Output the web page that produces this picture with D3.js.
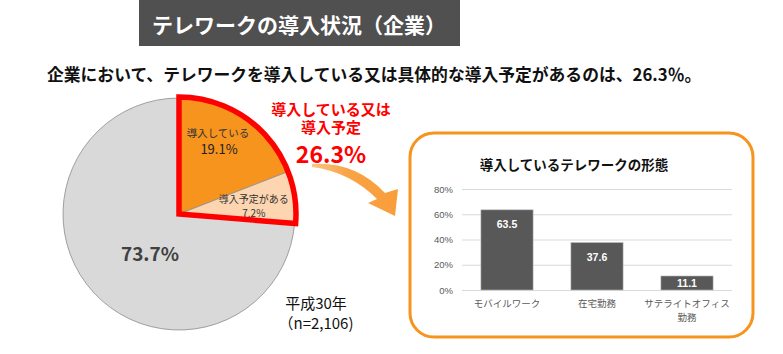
<!DOCTYPE html>
<html>
<head>
<meta charset="utf-8">
<script src="https://cdn.jsdelivr.net/npm/d3@7"></script>
<style>
body { margin: 0; background: #fff; }
svg { display: block; font-family: "Noto Sans CJK JP", "Noto Sans", sans-serif; }
</style>
</head>
<body>
<svg id="chart" width="783" height="354"></svg>
<script>
// pie: share of companies
var pieLabels = ["導入している", "導入予定がある", ""];
var pieValues = [19.1, 7.2, 73.7];
var pieColors = ["#f7941e", "#fdd5b0", "#d9d9d9"];

// bar: types of telework introduced
var barCategories = [["モバイルワーク"], ["在宅勤務"], ["サテライトオフィス", "勤務"]];
var barValues = [63.5, 37.6, 11.1];
var barTicks = [0, 20, 40, 60, 80];

var svg = d3.select("#chart");

// Title box
svg.append("rect").attr("x", 139).attr("y", 0).attr("width", 321).attr("height", 46).attr("fill", "#505050");
svg.append("text").attr("x", 299).attr("y", 24).attr("text-anchor", "middle").attr("dominant-baseline", "central")
  .attr("fill", "#fff").attr("font-size", 21).attr("font-weight", "bold")
  .text("テレワークの導入状況（企業）");

svg.append("text").attr("x", 47).attr("y", 74).attr("dominant-baseline", "central")
  .attr("fill", "#111").attr("font-size", 16.8).attr("font-weight", "bold")
  .text("企業において、テレワークを導入している又は具体的な導入予定があるのは、26.3％。");

////////////////////////////////////////////////////////
// Pie
////////////////////////////////////////////////////////
var cx = 179, cy = 214, r = 116;
var pie = d3.pie().sort(null).value(function (d) { return d; });
var arcs = pie(pieValues);
var arc = d3.arc().innerRadius(0).outerRadius(r);
var g = svg.append("g").attr("transform", "translate(" + cx + "," + cy + ")");

g.selectAll("path.slice").data(arcs).enter().append("path")
  .attr("class", "slice")
  .attr("d", arc)
  .attr("fill", function (d, i) { return pieColors[i]; })
  .attr("stroke", "#8c8c8c")
  .attr("stroke-width", 0.8);

// red outline round the introduced + planned share
var redShare = pieValues[0] + pieValues[1];
var total = d3.sum(pieValues);
g.append("path")
  .attr("d", d3.arc().innerRadius(0).outerRadius(r + 1)({ startAngle: 0, endAngle: 2 * Math.PI * redShare / total }))
  .attr("fill", "none").attr("stroke", "#ff0000").attr("stroke-width", 5.5).attr("stroke-linejoin", "miter");

// slice labels (offset from the slice centroids)
var c0 = d3.arc().innerRadius(r * 0.55).outerRadius(r * 0.55).centroid(arcs[0]);
var c1 = d3.arc().innerRadius(r * 0.8).outerRadius(r * 0.8).centroid(arcs[1]);
function label(px, py, size, color, s) {
  g.append("text").attr("x", px).attr("y", py).attr("text-anchor", "middle").attr("dominant-baseline", "central")
    .attr("font-size", size).attr("fill", color).text(s);
}
label(c0[0] + 3, c0[1] - 29, 10.5, "#333", pieLabels[0]);
label(c0[0] + 4, c0[1] - 13, 13, "#222", pieValues[0].toFixed(1) + "%");
label(c1[0] - 17, c1[1] - 2, 10, "#333", pieLabels[1]);
label(c1[0] - 17, c1[1] + 12, 10, "#333", pieValues[1].toFixed(1) + "%");
g.append("text").attr("x", -29).attr("y", 38).attr("text-anchor", "middle").attr("dominant-baseline", "central")
  .attr("font-size", 19).attr("font-weight", "bold").attr("fill", "#404040").text(pieValues[2].toFixed(1) + "%");

svg.append("text").attr("x", 316).attr("y", 302).attr("text-anchor", "middle").attr("dominant-baseline", "central")
  .attr("font-size", 15).attr("fill", "#111").text("平成30年");
svg.append("text").attr("x", 316).attr("y", 322).attr("text-anchor", "middle").attr("dominant-baseline", "central")
  .attr("font-size", 15).attr("fill", "#111").text("（n=2,106)");

// red callout
var red = svg.append("g").attr("fill", "#ff0000").attr("font-weight", "bold").attr("text-anchor", "middle")
  .attr("dominant-baseline", "central");
red.append("text").attr("x", 331).attr("y", 108).attr("font-size", 15).text("導入している又は");
red.append("text").attr("x", 331).attr("y", 126).attr("font-size", 15).text("導入予定");
red.append("text").attr("x", 331).attr("y", 153).attr("font-size", 23).text(redShare.toFixed(1) + "%");

// curved arrow
var defs = svg.append("defs");
var grad = defs.append("linearGradient").attr("id", "arrowGrad").attr("x1", "0").attr("x2", "1");
grad.append("stop").attr("offset", "0").attr("stop-color", "#fbc68a");
grad.append("stop").attr("offset", "0.4").attr("stop-color", "#f9a445");
grad.append("stop").attr("offset", "1").attr("stop-color", "#f99d3a");
svg.append("path")
  .attr("d", "M312,164 Q355,161 385,193 L398,189 L395,216 L368,203 L377,199 Q350,172 312,167 Z")
  .attr("fill", "url(#arrowGrad)");

////////////////////////////////////////////////////////
// Bar chart panel
////////////////////////////////////////////////////////
svg.append("rect").attr("x", 410).attr("y", 133).attr("width", 343).attr("height", 204)
  .attr("rx", 24).attr("ry", 24)
  .attr("fill", "#fff").attr("stroke", "#f7941d").attr("stroke-width", 3);

svg.append("text").attr("x", 574).attr("y", 164).attr("text-anchor", "middle").attr("dominant-baseline", "central")
  .attr("font-size", 13.5).attr("font-weight", "bold").attr("fill", "#111").text("導入しているテレワークの形態");

var x = d3.scaleBand().domain(d3.range(barValues.length)).range([462, 732]).paddingInner(0.42).paddingOuter(0.21);
var y = d3.scaleLinear().domain([0, 80]).range([290, 189]);

var yAxis = svg.append("g").attr("transform", "translate(462,0)")
  .call(d3.axisLeft(y).tickValues(barTicks).tickSize(-270).tickFormat(function (d) { return d + "%"; }));
yAxis.select(".domain").remove();
yAxis.selectAll(".tick line").attr("stroke", "#d9d9d9").attr("stroke-width", 1);
yAxis.selectAll(".tick text").attr("x", -9).attr("fill", "#595959").attr("font-size", 9.5)
  .attr("font-family", "Arial, 'Liberation Sans', sans-serif");

svg.selectAll("rect.bar").data(barValues).enter().append("rect")
  .attr("class", "bar")
  .attr("x", function (d, i) { return x(i); })
  .attr("y", function (d) { return y(d); })
  .attr("width", x.bandwidth())
  .attr("height", function (d) { return y(0) - y(d); })
  .attr("fill", "#585858").attr("stroke", "#bdbdbd").attr("stroke-width", 0.6);

svg.selectAll("text.val").data(barValues).enter().append("text")
  .attr("class", "val")
  .attr("x", function (d, i) { return x(i) + x.bandwidth() / 2; })
  .attr("y", function (d) { return Math.min(y(d) + 14, y(0) - 7); })
  .attr("text-anchor", "middle").attr("dominant-baseline", "central")
  .attr("fill", "#fff").attr("font-size", 10.5).attr("font-weight", "bold")
  .attr("font-family", "Arial, 'Liberation Sans', sans-serif")
  .text(function (d) { return d.toFixed(1); });

barCategories.forEach(function (lines, i) {
  lines.forEach(function (s, j) {
    svg.append("text")
      .attr("x", x(i) + x.bandwidth() / 2)
      .attr("y", 303 + j * 14)
      .attr("text-anchor", "middle").attr("dominant-baseline", "central")
      .attr("fill", "#595959").attr("font-size", 9.5).text(s);
  });
});
</script>
</body>
</html>
